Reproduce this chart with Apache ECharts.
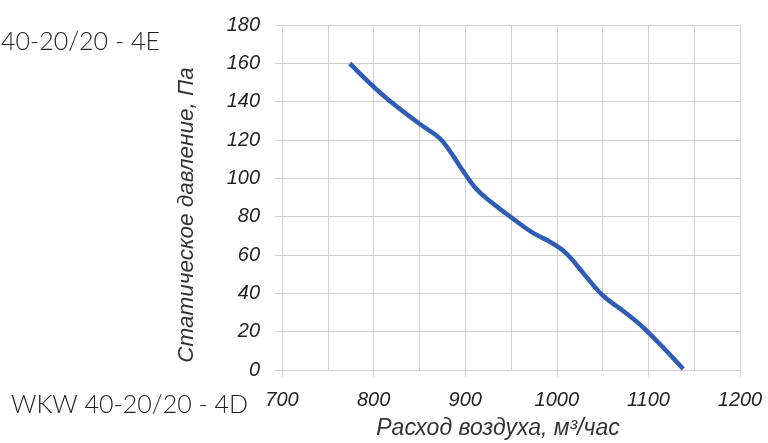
<!DOCTYPE html>
<html><head><meta charset="utf-8">
<script src="https://cdn.jsdelivr.net/npm/echarts@6/dist/echarts.min.js"></script>
<style>html,body{margin:0;padding:0;background:#fff}#c{width:768px;height:443px}</style>
</head><body><div id="c"></div>
<script>
const flow = [774, 810, 850, 872, 885, 896, 912, 930, 952, 974, 992, 1010, 1029, 1050, 1076, 1098, 1138];
const pressure = [160, 143.5, 128.5, 121, 113, 105, 94.5, 87, 79, 71.5, 67, 61, 50.5, 39, 29.5, 20.5, 0.5];
const xTitle = 'Расход воздуха, м³/час';
const yTitle = 'Статическое давление, Па';
const labelTop = '40-20/20 - 4E';
const labelBottom = 'WKW 40-20/20 - 4D';

const chart = echarts.init(document.getElementById('c'));
const gridC = '#d0d0d0';
chart.setOption({
  animation: false,
  grid: {left: 282, right: 28, top: 25, bottom: 73},
  xAxis: {
    type: 'value', min: 700, max: 1200, interval: 100,
    axisLine: {show: false},
    axisTick: {show: true, length: 7, lineStyle: {color: gridC}},
    minorTick: {show: false, splitNumber: 2},
    splitLine: {show: true, lineStyle: {color: gridC, width: 1}},
    minorSplitLine: {show: true, lineStyle: {color: gridC, width: 1}},
    axisLabel: {margin: 20, fontSize: 20, fontStyle: 'italic', color: '#222', fontFamily: 'Liberation Sans',
      formatter: v => String(v)}
  },
  yAxis: {
    type: 'value', min: 0, max: 180, interval: 20,
    axisLine: {show: false},
    axisTick: {show: true, length: 7, lineStyle: {color: gridC}},
    splitLine: {show: true, lineStyle: {color: gridC, width: 1}},
    axisLabel: {margin: 22, fontSize: 20, fontStyle: 'italic', color: '#222', fontFamily: 'Liberation Sans'}
  },
  graphic: [
    {type: 'text', x: 498, y: 429, style: {text: xTitle, fontSize: 23, fontStyle: 'italic', fill: '#333', fontFamily: 'Liberation Sans', align: 'center', verticalAlign: 'middle'}},
    {type: 'text', x: 187, y: 215, rotation: Math.PI / 2, style: {text: yTitle, fontSize: 22.5, fontStyle: 'italic', fill: '#333', fontFamily: 'Liberation Sans', align: 'center', verticalAlign: 'middle'}},
    {type: 'text', x: 1, y: 42, style: {text: labelTop, fontSize: 25, fill: '#222', fontFamily: 'Lato', fontWeight: 300, verticalAlign: 'middle'}},
    {type: 'text', x: 11, y: 405, style: {text: labelBottom, fontSize: 25, fill: '#222', fontFamily: 'Lato', fontWeight: 300, verticalAlign: 'middle'}}
  ],
  series: [{
    type: 'line', smooth: 0.4, symbol: 'none',
    data: flow.map((f, i) => [f, pressure[i]]),
    lineStyle: {color: '#2f5cb5', width: 4.5, cap: 'butt'}
  }]
});
</script></body></html>
